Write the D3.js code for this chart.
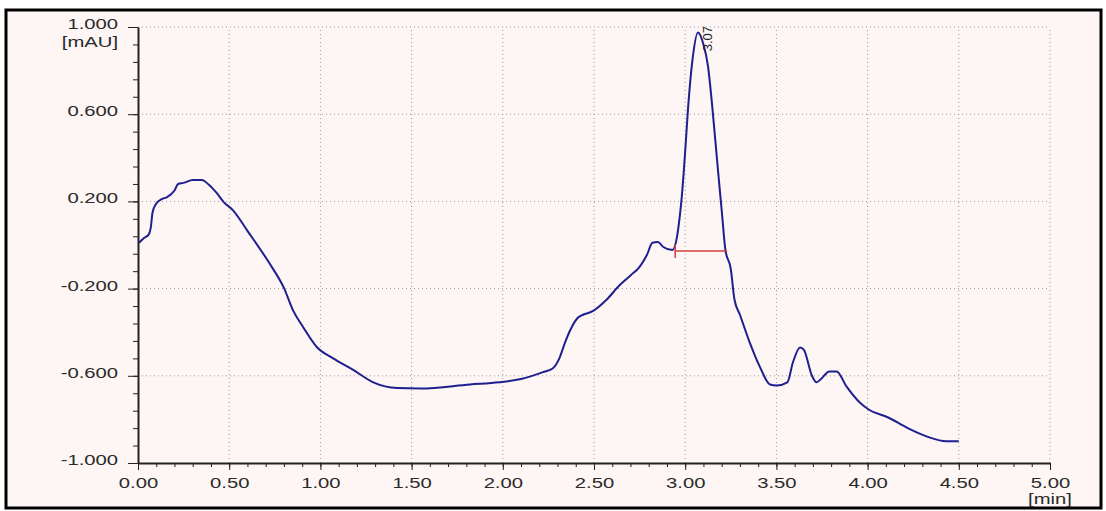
<!DOCTYPE html>
<html>
<head>
<meta charset="utf-8">
<script src="https://cdn.jsdelivr.net/npm/d3@7"></script>
<style>
  body { margin: 0; background: #fff; }
  svg { display: block; font-family: "Liberation Sans", Arial, sans-serif; }
  .grid line { stroke: #9a9a9a; stroke-width: 1; stroke-dasharray: 1,3; }
  .axis path, .axis line { stroke: #222; }
  .axis text { fill: #2a2a2a; font-size: 15px; }
</style>
</head>
<body>
<script>
// chromatogram trace: time [min], signal [mAU]
var times = [0.005, 0.03, 0.06, 0.07, 0.08, 0.10, 0.13, 0.16, 0.20, 0.22, 0.25, 0.30, 0.35, 0.39, 0.43, 0.47,
    0.52, 0.60, 0.72, 0.80, 0.85, 0.905, 0.98, 1.07, 1.18, 1.29, 1.42, 1.55, 1.82, 1.98, 2.10, 2.22,
    2.275, 2.31, 2.34, 2.37, 2.41, 2.44, 2.49, 2.57, 2.64, 2.70, 2.75, 2.79, 2.82, 2.85, 2.88, 2.93,
    2.955, 2.97, 2.98, 3.00, 3.015, 3.04, 3.07, 3.10, 3.125, 3.15, 3.18, 3.20, 3.22, 3.25, 3.27, 3.30,
    3.355, 3.41, 3.465, 3.50, 3.56, 3.59, 3.63, 3.65, 3.695, 3.72, 3.75, 3.79, 3.83, 3.885, 3.96, 4.01,
    4.11, 4.22, 4.33, 4.43, 4.50];
var signal = [0.01, 0.03, 0.05, 0.08, 0.15, 0.19, 0.21, 0.22, 0.25, 0.28, 0.285, 0.298, 0.298, 0.275, 0.24, 0.197,
    0.16, 0.065, -0.083, -0.197, -0.30, -0.376, -0.468, -0.52, -0.573, -0.63, -0.656, -0.658, -0.64, -0.63, -0.615, -0.583,
    -0.565, -0.52, -0.45, -0.39, -0.335, -0.32, -0.305, -0.25, -0.185, -0.14, -0.10, -0.046, 0.01, 0.014, -0.009, -0.023,
    0.037, 0.13, 0.21, 0.43, 0.62, 0.85, 0.975, 0.92, 0.82, 0.62, 0.34, 0.16, -0.02, -0.11, -0.25, -0.32,
    -0.45, -0.56, -0.64, -0.645, -0.63, -0.54, -0.47, -0.48, -0.60, -0.63, -0.61, -0.58, -0.58, -0.65, -0.725, -0.757,
    -0.79, -0.84, -0.88, -0.90, -0.90];

var yMajor = [-1.0, -0.6, -0.2, 0.2, 0.6, 1.0];
var xMajor = [0, 0.5, 1, 1.5, 2, 2.5, 3, 3.5, 4, 4.5, 5];
var peakName = '3.07', peakTime = 3.07;
var baseStart = [2.945, -0.027], baseEnd = [3.23, -0.027];

var W = 1106, H = 511;
var svg = d3.select('body').append('svg').attr('width', W).attr('height', H);

// frame
svg.append('rect')
    .attr('x', 6).attr('y', 10).attr('width', 1095).attr('height', 498)
    .attr('fill', '#fdf6f4').attr('stroke', '#000').attr('stroke-width', 3);

var x = d3.scaleLinear().domain([0, 5]).range([138, 1050]);
var y = d3.scaleLinear().domain([-1, 1]).range([463, 27]);

// grid
var grid = svg.append('g').attr('class', 'grid');
grid.selectAll('line.h')
    .data(yMajor.filter(function(d) { return d > -1; }))
    .enter().append('line')
        .attr('x1', x(0)).attr('x2', x(5))
        .attr('y1', function(d) { return y(d); })
        .attr('y2', function(d) { return y(d); });
grid.selectAll('line.v')
    .data(xMajor.filter(function(d) { return d > 0; }))
    .enter().append('line')
        .attr('y1', y(-1)).attr('y2', y(1))
        .attr('x1', function(d) { return x(d); })
        .attr('x2', function(d) { return x(d); });

var sx = 1.35; // labels look horizontally stretched

// y axis
var yMinor = d3.range(0, 26).map(function(i) { return -1 + i * 0.08; });
svg.append('g').attr('class', 'axis')
    .attr('transform', 'translate(' + x(0) + ',0)')
    .call(d3.axisLeft(y).tickValues(yMinor).tickSize(5).tickSizeOuter(0).tickFormat(''))
    .select('.domain').attr('stroke-width', 2);
var yAx = svg.append('g').attr('class', 'axis')
    .attr('transform', 'translate(' + x(0) + ',0)')
    .call(d3.axisLeft(y).tickValues(yMajor).tickSize(10).tickSizeOuter(0)
        .tickFormat(function(d) { return d.toFixed(3); }));
yAx.select('.domain').remove();
yAx.selectAll('text')
    .attr('x', -20 / sx).attr('dy', '0.1em')
    .attr('transform', 'scale(' + sx + ',1)');

// x axis
var xMinor = d3.range(0, 51).map(function(i) { return i * 0.1; });
svg.append('g').attr('class', 'axis')
    .attr('transform', 'translate(0,' + y(-1) + ')')
    .call(d3.axisBottom(x).tickValues(xMinor).tickSize(4).tickSizeOuter(0).tickFormat(''))
    .select('.domain').attr('stroke-width', 2);
var xAx = svg.append('g').attr('class', 'axis')
    .attr('transform', 'translate(0,' + y(-1) + ')')
    .call(d3.axisBottom(x).tickValues(xMajor).tickSize(7).tickSizeOuter(0)
        .tickFormat(function(d) { return d.toFixed(2); }));
xAx.select('.domain').remove();
xAx.selectAll('text')
    .attr('y', 14).attr('x', 0)
    .attr('transform', 'scale(' + sx + ',1)');

// unit labels
svg.append('text')
    .attr('transform', 'translate(' + (x(0) - 20) + ',' + 47 + ') scale(' + sx + ',1)')
    .attr('text-anchor', 'end').attr('font-size', 15).attr('fill', '#2a2a2a')
    .text('[mAU]');
svg.append('text')
    .attr('transform', 'translate(' + x(5) + ',' + 504 + ') scale(' + sx + ',1)')
    .attr('text-anchor', 'middle').attr('font-size', 15).attr('fill', '#2a2a2a')
    .text('[min]');

// trace
var pts = times.map(function(t, i) { return [t, signal[i]]; });
var line = d3.line()
    .x(function(d) { return x(d[0]); })
    .y(function(d) { return y(d[1]); });
svg.append('path')
    .datum(pts)
    .attr('d', line.curve(d3.curveMonotoneX))
    .attr('fill', 'none')
    .attr('stroke', '#1f1f8f')
    .attr('stroke-width', 2)
    .attr('stroke-linejoin', 'round');
line.curve(d3.curveLinear);

// integration baseline
svg.append('path')
    .datum([baseStart, baseEnd])
    .attr('d', line)
    .attr('fill', 'none').attr('stroke', '#d2403a').attr('stroke-width', 1.5);
svg.append('line')
    .attr('x1', x(baseStart[0])).attr('x2', x(baseStart[0]))
    .attr('y1', y(baseStart[1]) - 6).attr('y2', y(baseStart[1]) + 7)
    .attr('stroke', '#d2403a').attr('stroke-width', 1.5);

// peak label
svg.append('text')
    .attr('transform', 'translate(' + (x(peakTime) + 14) + ',' + (y(1) - 1) + ') rotate(-90)')
    .attr('text-anchor', 'end')
    .attr('font-size', 13).attr('fill', '#222')
    .text(peakName);
</script>
</body>
</html>
